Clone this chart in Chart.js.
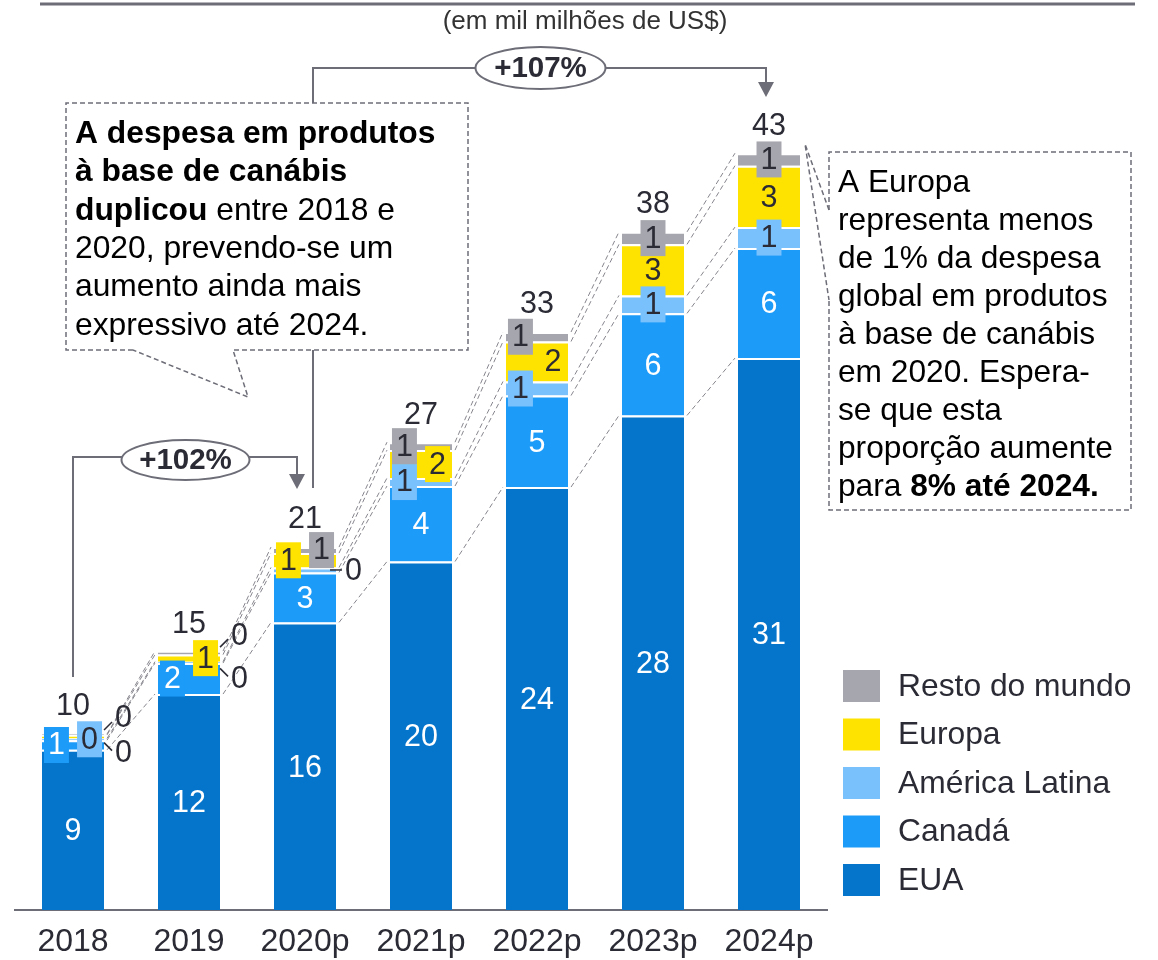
<!DOCTYPE html>
<html>
<head>
<meta charset="utf-8">
<script src="https://cdn.jsdelivr.net/npm/chart.js@4.4.1/dist/chart.umd.min.js"></script>
<style>
  html, body { margin: 0; padding: 0; background: #fff; }
  canvas { display: block; }
</style>
</head>
<body>
<canvas id="chart" width="1158" height="960"></canvas>
<script>
// data (em mil milhões de US$)
const years = ['2018', '2019', '2020p', '2021p', '2022p', '2023p', '2024p'];
const eua = [9.1, 12.27, 16.34, 19.8, 24.03, 28.1, 31.36];
const canada = [0.55, 1.76, 2.84, 4.29, 5.2, 5.8, 6.25];
const latam = [0.1, 0.08, 0.28, 0.45, 0.8, 1.02, 1.19];
const europa = [0.2, 0.4, 0.82, 1.59, 2.27, 2.9, 3.49];
const resto = [0.05, 0.2, 0.34, 0.45, 0.54, 0.71, 0.71];

// labels as printed on the chart
const euaLabels = ['9', '12', '16', '20', '24', '28', '31'];
const canadaLabels = ['1', '2', '3', '4', '5', '6', '6'];
const latamLabels = ['0', '0', '0', '1', '1', '1', '1'];
const europaLabels = ['0', '1', '1', '2', '2', '3', '3'];
const restoLabels = ['0', '0', '1', '1', '1', '1', '1'];
const totalLabels = ['10', '15', '21', '27', '33', '38', '43'];

// where each label sits: c=centre, r=right, bl/br/bc=boxed left/right/centre, oh/ol/oc=outside with leader
const euaPlace = ['c', 'c', 'c', 'c', 'c', 'c', 'c'];
const canadaPlace = ['bl', 'bl', 'c', 'c', 'c', 'c', 'c'];
const latamPlace = ['br', 'ol', 'oc', 'bl', 'bl', 'bc', 'bc'];
const europaPlace = ['ol', 'br', 'bl', 'br', 'r', 'c', 'c'];
const restoPlace = ['oh', 'oh', 'br', 'bl', 'bl', 'bc', 'bc'];

const FONT = '"Liberation Sans", Arial, Helvetica, sans-serif';
const DARK = '#2b2b35';
const GREY = '#6d6d78';

const valueLabels = [euaLabels, canadaLabels, latamLabels, europaLabels, restoLabels];
const placements = [euaPlace, canadaPlace, latamPlace, europaPlace, restoPlace];

function drawText(ctx, txt, x, y, color, align) {
  ctx.fillStyle = color;
  ctx.textAlign = align || 'center';
  ctx.fillText(txt, x, y);
}

const barLabels = {
  id: 'barLabels',
  afterDatasetsDraw(chart) {
    const ctx = chart.ctx;
    const metas = chart.data.datasets.map((d, i) => chart.getDatasetMeta(i));

    // dashed lines linking the series tops from one bar to the next
    ctx.save();
    ctx.strokeStyle = '#85858d';
    ctx.lineWidth = 1;
    ctx.setLineDash([5, 3]);
    metas.forEach(meta => {
      for (let i = 0; i < meta.data.length - 1; i++) {
        const a = meta.data[i], b = meta.data[i + 1];
        ctx.beginPath();
        ctx.moveTo(a.x + a.width / 2 + 3, a.y);
        ctx.lineTo(b.x - b.width / 2 - 3, b.y);
        ctx.stroke();
      }
    });
    ctx.restore();

    ctx.save();
    ctx.font = '30.5px ' + FONT;
    ctx.textBaseline = 'middle';
    metas.forEach((meta, di) => {
      const ds = chart.data.datasets[di];
      meta.data.forEach((bar, i) => {
        const txt = valueLabels[di][i];
        const kind = placements[di][i];
        const mid = (bar.y + bar.base) / 2;
        const left = bar.x - bar.width / 2, right = bar.x + bar.width / 2;
        const light = di <= 1 ? '#ffffff' : DARK;
        if (kind === 'c') {
          drawText(ctx, txt, bar.x, mid + 2, light);
        } else if (kind === 'r') {
          drawText(ctx, txt, right - 15, mid + 1, DARK);
        } else if (kind[0] === 'b') {
          const bw = ctx.measureText(txt).width + 8, bh = 36;
          let bx = bar.x - bw / 2;
          if (kind === 'bl') bx = left + 2;
          if (kind === 'br') bx = right - 2 - bw;
          ctx.fillStyle = ds.backgroundColor;
          ctx.fillRect(bx, mid - bh / 2, bw, bh);
          drawText(ctx, txt, bx + bw / 2, mid + 1, light);
        } else {
          const top = metas[metas.length - 1].data[i].y;
          let x1, y1, x2, y2, ty;
          if (kind === 'oh') { x1 = right; y1 = top - 4; x2 = right + 8; y2 = top - 12; ty = top - 15; }
          else if (kind === 'ol') { x1 = right; y1 = mid + 6; x2 = right + 8; y2 = mid + 14; ty = mid + 17; }
          else { x1 = right - 6; y1 = mid; x2 = right + 6; y2 = mid; ty = mid + 2; }
          ctx.strokeStyle = DARK;
          ctx.lineWidth = 1.5;
          ctx.beginPath();
          ctx.moveTo(x1, y1);
          ctx.lineTo(x2, y2);
          ctx.stroke();
          drawText(ctx, txt, x2 + 3, ty, DARK, 'left');
        }
      });
    });

    // totals above the stacks
    const topMeta = metas[metas.length - 1];
    topMeta.data.forEach((bar, i) => {
      drawText(ctx, totalLabels[i], bar.x, bar.y - 27, DARK);
    });
    ctx.restore();
  }
};

function richLine(ctx, parts, x, y, size) {
  let cx = x;
  parts.forEach(([t, bold]) => {
    ctx.font = (bold ? 'bold ' : '') + size + 'px ' + FONT;
    ctx.fillText(t, cx, y);
    cx += ctx.measureText(t).width;
  });
}

function path(ctx, pts) {
  ctx.beginPath();
  ctx.moveTo(pts[0][0], pts[0][1]);
  for (let k = 1; k < pts.length; k++) ctx.lineTo(pts[k][0], pts[k][1]);
  ctx.stroke();
}

function arrowDown(ctx, x, tipY) {
  ctx.beginPath();
  ctx.moveTo(x - 8, tipY - 15);
  ctx.lineTo(x + 8, tipY - 15);
  ctx.lineTo(x, tipY);
  ctx.closePath();
  ctx.fill();
}

function pill(ctx, cx, cy, rx, ry, txt) {
  ctx.beginPath();
  ctx.ellipse(cx, cy, rx, ry, 0, 0, Math.PI * 2);
  ctx.fillStyle = '#fff';
  ctx.fill();
  ctx.lineWidth = 2;
  ctx.strokeStyle = GREY;
  ctx.stroke();
  ctx.font = 'bold 29.5px ' + FONT;
  ctx.fillStyle = DARK;
  ctx.textAlign = 'center';
  ctx.fillText(txt, cx, cy + 1);
}

const annotations = {
  id: 'annotations',
  afterDraw(chart) {
    const ctx = chart.ctx;
    const xs = chart.scales.x;
    const c18 = xs.getPixelForValue(0);
    const c20 = xs.getPixelForValue(2);
    const c24 = xs.getPixelForValue(6);
    ctx.save();

    // top rule + unit
    ctx.strokeStyle = GREY;
    ctx.lineWidth = 3;
    ctx.beginPath(); ctx.moveTo(40, 4); ctx.lineTo(1135, 4); ctx.stroke();
    ctx.fillStyle = '#333';
    ctx.font = '26px ' + FONT;
    ctx.textAlign = 'center';
    ctx.textBaseline = 'middle';
    ctx.fillText('(em mil milhões de US$)', 585, 22);

    // growth brackets
    ctx.strokeStyle = GREY;
    ctx.fillStyle = GREY;
    ctx.lineWidth = 2;
    path(ctx, [[c18, 677], [c18, 457], [c20 - 8, 457], [c20 - 8, 476]]);
    arrowDown(ctx, c20 - 8, 489);
    path(ctx, [[c20 + 8, 103], [c20 + 8, 68], [c24 - 3, 68], [c24 - 3, 84]]);
    ctx.fillStyle = GREY;
    arrowDown(ctx, c24 - 3, 97);
    path(ctx, [[c20 + 8, 350], [c20 + 8, 488]]);
    pill(ctx, 185.5, 460, 64, 20, '+102%');
    pill(ctx, 540.5, 68, 65, 21, '+107%');

    // left callout
    ctx.setLineDash([5, 3]);
    ctx.lineWidth = 1.5;
    ctx.strokeStyle = GREY;
    ctx.fillStyle = '#fff';
    ctx.fillRect(66, 103, 402, 247);
    path(ctx, [[133, 350], [66, 350], [66, 103], [468, 103], [468, 350], [233, 350], [248, 397], [133, 350]]);

    // right callout
    ctx.fillRect(829, 152, 302, 358);
    path(ctx, [[829, 210], [829, 152], [1131, 152], [1131, 510], [829, 510], [829, 300]]);
    path(ctx, [[829, 210], [805, 144], [829, 300]]);
    ctx.setLineDash([]);

    ctx.fillStyle = '#000';
    ctx.textAlign = 'left';
    const leftLines = [
      [['A despesa em produtos', 1]],
      [['à base de canábis', 1]],
      [['duplicou', 1], [' entre 2018 e', 0]],
      [['2020, prevendo-se um', 0]],
      [['aumento ainda mais', 0]],
      [['expressivo até 2024.', 0]]
    ];
    leftLines.forEach((ln, k) => richLine(ctx, ln, 75, 134 + k * 38.4, 31.8));
    const rightLines = [
      [['A Europa', 0]],
      [['representa menos', 0]],
      [['de 1% da despesa', 0]],
      [['global em produtos', 0]],
      [['à base de canábis', 0]],
      [['em 2020. Espera-', 0]],
      [['se que esta', 0]],
      [['proporção aumente', 0]],
      [['para ', 0], ['8% até 2024.', 1]]
    ];
    rightLines.forEach((ln, k) => richLine(ctx, ln, 838, 183 + k * 38, 31.7));

    // legend (top series first)
    const sets = chart.data.datasets.slice().reverse();
    ctx.font = '31.8px ' + FONT;
    sets.forEach((ds, k) => {
      const y = 686 + k * 48.5;
      ctx.fillStyle = ds.backgroundColor;
      ctx.fillRect(843, y - 16, 37, 32);
      ctx.fillStyle = DARK;
      ctx.fillText(ds.label, 898, y + 1);
    });
    ctx.restore();
  }
};

const series = [
  { label: 'EUA', data: eua, color: '#0575cc' },
  { label: 'Canadá', data: canada, color: '#1c9bf9' },
  { label: 'América Latina', data: latam, color: '#79c1fc' },
  { label: 'Europa', data: europa, color: '#ffe300' },
  { label: 'Resto do mundo', data: resto, color: '#a6a6ae' }
];

new Chart(document.getElementById('chart'), {
  type: 'bar',
  data: {
    labels: years,
    datasets: series.map(s => ({
      label: s.label,
      data: s.data,
      backgroundColor: s.color,
      borderColor: '#ffffff',
      borderWidth: { top: 2, right: 0, bottom: 0, left: 0 },
      borderSkipped: false,
      categoryPercentage: 1,
      barPercentage: 0.535
    }))
  },
  options: {
    responsive: false,
    animation: false,
    devicePixelRatio: 1,
    layout: { padding: { left: 15, right: 331, top: 30, bottom: 0 } },
    plugins: {
      legend: { display: false },
      tooltip: { enabled: false },
      title: { display: false }
    },
    scales: {
      x: {
        stacked: true,
        grid: { display: false, drawTicks: false },
        border: { display: true, color: GREY, width: 2 },
        ticks: { color: DARK, font: { family: FONT, size: 32 }, padding: 13 },
        afterFit: (scale) => { scale.height = 50; }
      },
      y: {
        stacked: true,
        display: false,
        min: 0,
        max: 50
      }
    }
  },
  plugins: [barLabels, annotations]
});
</script>
</body>
</html>
